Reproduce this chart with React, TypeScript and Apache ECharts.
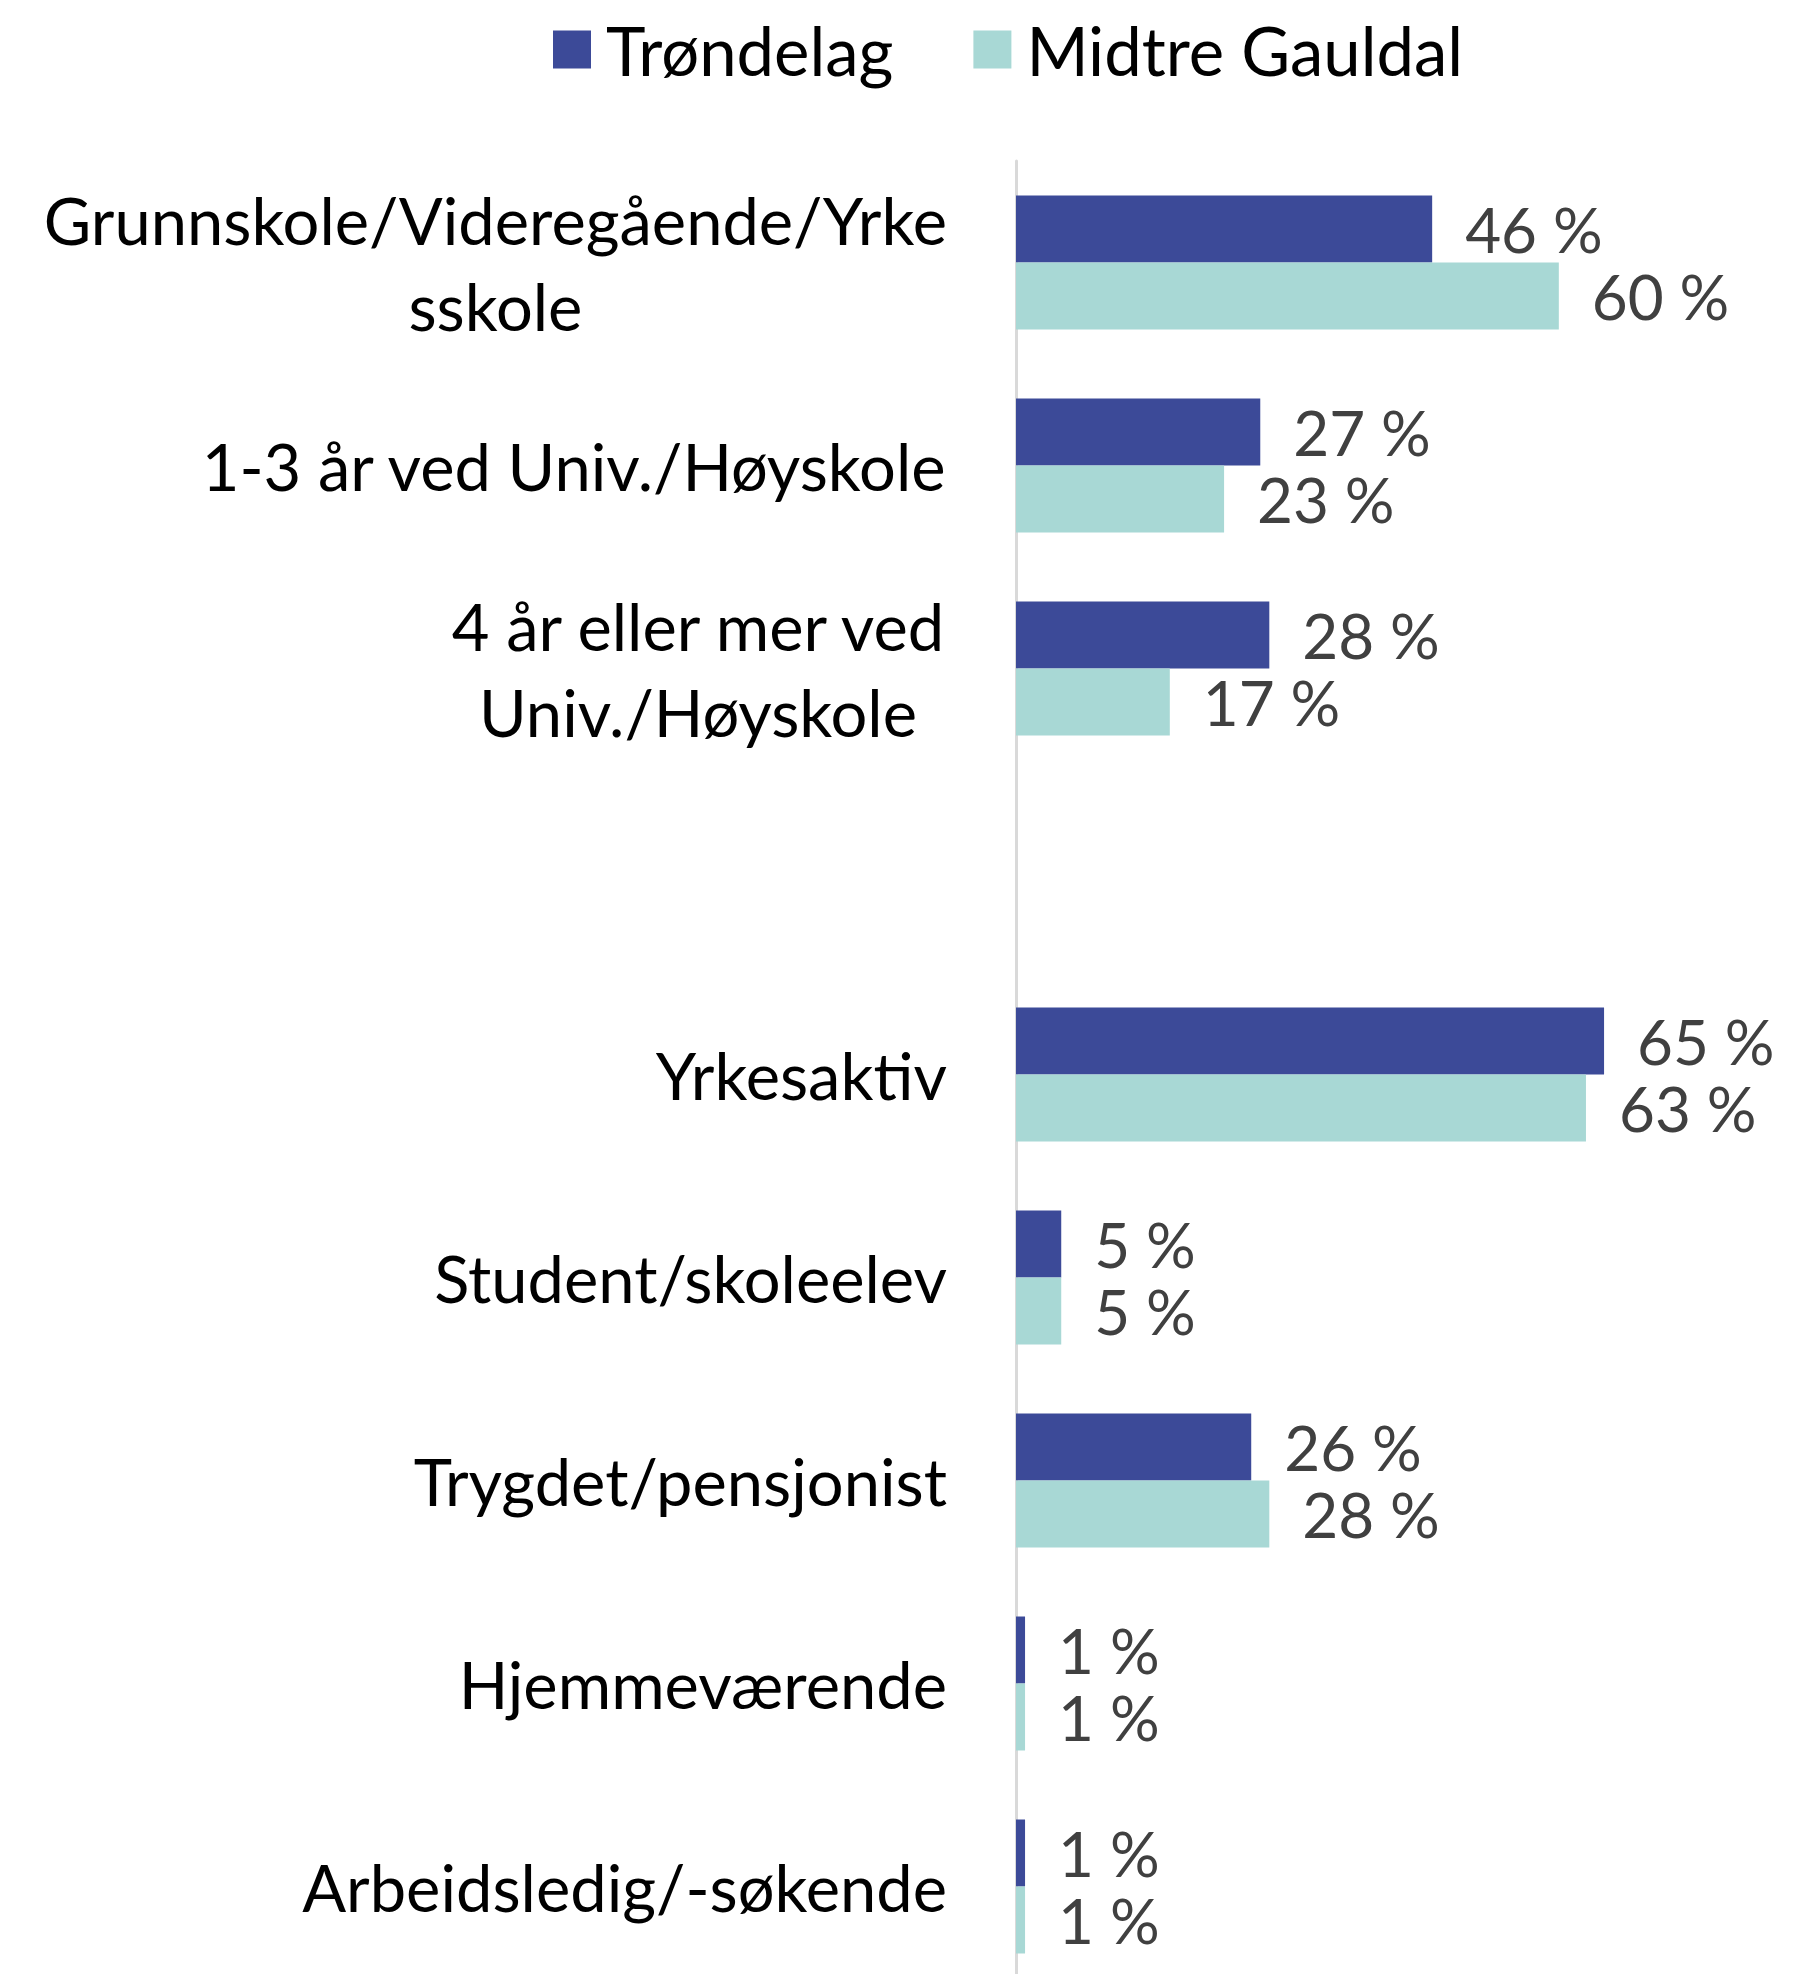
import React, { useEffect, useRef } from "react";
import * as echarts from "echarts";

const categories = [
  "Grunnskole/Videregående/Yrke\nsskole",
  "1-3 år ved Univ./Høyskole",
  "4 år eller mer ved\nUniv./Høyskole",
  "",
  "Yrkesaktiv",
  "Student/skoleelev",
  "Trygdet/pensjonist",
  "Hjemmeværende",
  "Arbeidsledig/-søkende",
];
const seriesNames = ["Trøndelag", "Midtre Gauldal"];
const trondelag = [46, 27, 28, null, 65, 5, 26, 1, 1];
const midtreGauldal = [60, 23, 17, null, 63, 5, 28, 1, 1];

const FONT = "Lato, 'Open Sans', sans-serif";

export default function App() {
  const ref = useRef<HTMLDivElement>(null);
  useEffect(() => {
    if (!ref.current) return;
    const chart = echarts.init(ref.current, undefined, { renderer: "svg" });
    const labelCfg = {
      show: true,
      position: "right",
      distance: 33,
      color: "#404040",
      fontSize: 62,
      fontFamily: FONT,
      formatter: (p: any) => (p.value == null ? "" : `${p.value} %`),
    };
    chart.setOption({
      animation: false,
      backgroundColor: "#ffffff",
      legend: {
        data: seriesNames,
        left: 548,
        top: 11,
        icon: "rect",
        itemWidth: 38,
        itemHeight: 38,
        itemGap: 80,
        textStyle: {
          color: "#000",
          fontSize: 67,
          fontFamily: FONT,
          lineHeight: 38,
          padding: [0, 0, 12, 10],
        },
      },
      grid: { left: 1016, top: 161, width: 769, height: 1827, containLabel: false },
      xAxis: {
        type: "value",
        min: 0,
        max: 85,
        show: false,
        splitLine: { show: false },
      },
      yAxis: {
        type: "category",
        inverse: true,
        data: categories,
        axisLine: { show: true, lineStyle: { color: "#d9d9d9", width: 3 } },
        axisTick: { show: false },
        splitLine: { show: false },
        axisLabel: {
          margin: 69,
          color: "#000",
          fontSize: 65,
          fontFamily: FONT,
          lineHeight: 86,
          formatter: (v: string) =>
            v === "" ? "" : v.split("\n").map((l) => `{c|${l}}`).join("\n"),
          rich: {
            c: {
              align: "center",
              color: "#000",
              fontSize: 65,
              fontFamily: FONT,
              lineHeight: 86,
            },
          },
        },
      },
      series: [
        {
          name: seriesNames[0],
          type: "bar",
          data: trondelag,
          barWidth: 67,
          barGap: "0%",
          itemStyle: { color: "#3C4A98" },
          label: labelCfg,
        },
        {
          name: seriesNames[1],
          type: "bar",
          data: midtreGauldal,
          barWidth: 67,
          barGap: "0%",
          itemStyle: { color: "#A8D8D5" },
          label: labelCfg,
        },
      ],
    });
    return () => chart.dispose();
  }, []);
  return (
    <div
      style={{
        position: "absolute",
        left: 0,
        top: 0,
        width: 1793,
        height: 1974,
        overflow: "hidden",
      }}
    >
      <div ref={ref} style={{ width: 1793, height: 2000 }} />
    </div>
  );
}
